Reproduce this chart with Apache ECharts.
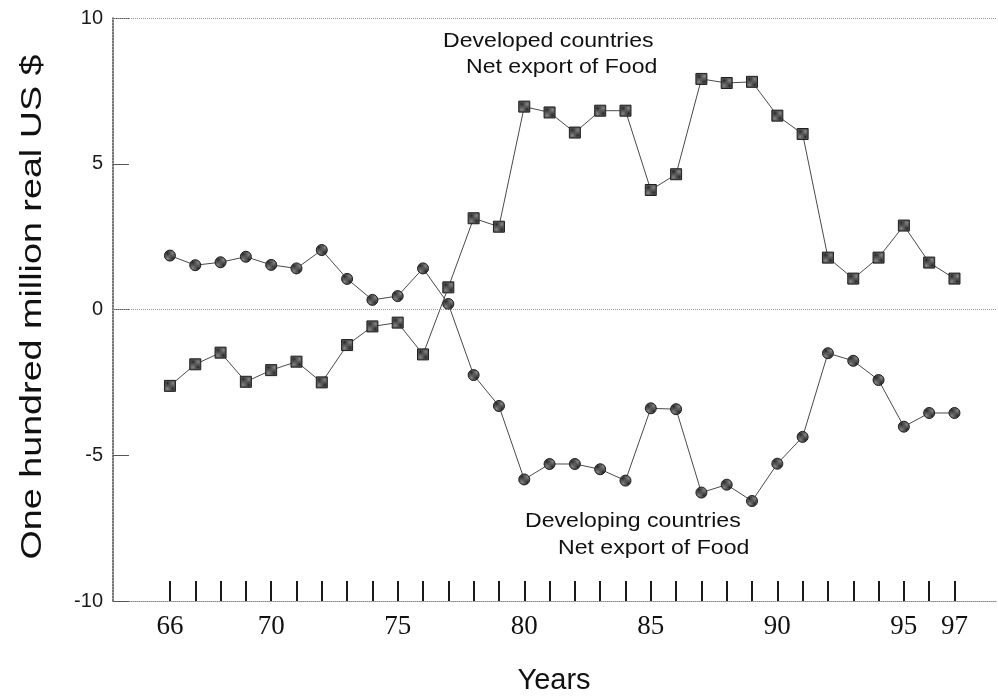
<!DOCTYPE html>
<html>
<head>
<meta charset="utf-8">
<script src="https://cdn.jsdelivr.net/npm/echarts@6/dist/echarts.min.js"></script>
<style>
  html, body { margin: 0; padding: 0; background: #fff; }
  #chart { width: 998px; height: 698px; }
</style>
</head>
<body>
<div id="chart"></div>
<script>
// Years 1966-1997 (two-digit labels on the axis)
const years = [66, 67, 68, 69, 70, 71, 72, 73, 74, 75, 76, 77, 78, 79, 80, 81,
               82, 83, 84, 85, 86, 87, 88, 89, 90, 91, 92, 93, 94, 95, 96, 97];
const yearLabels = [66, 70, 75, 80, 85, 90, 95, 97];

// Net export of food, one hundred million real US $
const developed = [-2.62, -1.88, -1.48, -2.48, -2.08, -1.79, -2.50, -1.22, -0.58, -0.45, -1.54, 0.76,
                   3.13, 2.84, 6.96, 6.76, 6.07, 6.82, 6.82, 4.10, 4.64, 7.91, 7.77, 7.81,
                   6.65, 6.02, 1.78, 1.06, 1.78, 2.88, 1.61, 1.06];
const developing = [1.85, 1.52, 1.62, 1.81, 1.53, 1.41, 2.04, 1.05, 0.33, 0.46, 1.41, 0.19,
                    -2.25, -3.31, -5.83, -5.30, -5.30, -5.48, -5.87, -3.39, -3.42, -6.28, -6.01, -6.57,
                    -5.29, -4.37, -1.50, -1.76, -2.42, -4.02, -3.55, -3.55];

// small checkered fill for the markers
function hatch() {
  const c = document.createElement('canvas');
  c.width = 2; c.height = 2;
  const g = c.getContext('2d');
  g.fillStyle = '#8a8a8a'; g.fillRect(0, 0, 2, 2);
  g.fillStyle = '#262626'; g.fillRect(0, 0, 1, 1); g.fillRect(1, 1, 1, 1);
  return { image: c, repeat: 'repeat' };
}

const chart = echarts.init(document.getElementById('chart'), null, { renderer: 'canvas' });

const sans = '"Liberation Sans", Arial, sans-serif';
const serif = '"Liberation Serif", "Times New Roman", serif';

chart.setOption({
  animation: false,
  backgroundColor: '#ffffff',
  grid: { left: 113, right: 1, top: 18, bottom: 97, containLabel: false },
  xAxis: {
    type: 'value',
    min: 63.75,
    max: 98.68,
    axisLine: { show: true, onZero: false, lineStyle: { color: '#888', width: 1, type: 'dotted' } },
    axisTick: {
      show: true, inside: true, length: 20, customValues: years,
      lineStyle: { color: '#1a1a1a', width: 2 }
    },
    axisLabel: {
      show: true, customValues: yearLabels, margin: 12,
      fontFamily: serif, fontSize: 27, color: '#111'
    },
    splitLine: { show: false }
  },
  yAxis: {
    type: 'value',
    min: -10, max: 10, interval: 5,
    axisLine: { show: true, lineStyle: { color: '#444', width: 1.5, type: 'dotted' } },
    axisTick: { show: true, inside: true, length: 16, lineStyle: { color: '#555', width: 1 } },
    axisLabel: { margin: 10, fontFamily: sans, fontSize: 20, color: '#1a1a1a' },
    splitLine: { show: false }
  },
  series: [
    {
      name: 'Developed countries',
      type: 'line',
      data: years.map((y, i) => [y, developed[i]]),
      symbol: 'rect',
      symbolSize: 11,
      lineStyle: { color: '#4a4a4a', width: 1 },
      itemStyle: { color: hatch(), borderColor: '#1e1e1e', borderWidth: 1 },
      z: 3,
      markLine: {
        silent: true, symbol: 'none', label: { show: false },
        lineStyle: { color: '#999', width: 1, type: 'dotted' },
        data: [{ yAxis: 10 }, { yAxis: 0 }]
      }
    },
    {
      name: 'Developing countries',
      type: 'line',
      data: years.map((y, i) => [y, developing[i]]),
      symbol: 'circle',
      symbolSize: 11,
      lineStyle: { color: '#4a4a4a', width: 1 },
      itemStyle: { color: hatch(), borderColor: '#1e1e1e', borderWidth: 1 },
      z: 3
    }
  ],
  graphic: [
    {
      type: 'text', x: 443, y: 41, scaleX: 1.1,
      style: { text: 'Developed countries', fontFamily: sans, fontSize: 21, fill: '#111', verticalAlign: 'middle' }
    },
    {
      type: 'text', x: 466, y: 67, scaleX: 1.1,
      style: { text: 'Net export of Food', fontFamily: sans, fontSize: 21, fill: '#111', verticalAlign: 'middle' }
    },
    {
      type: 'text', x: 525, y: 521, scaleX: 1.1,
      style: { text: 'Developing countries', fontFamily: sans, fontSize: 21, fill: '#111', verticalAlign: 'middle' }
    },
    {
      type: 'text', x: 558, y: 548, scaleX: 1.1,
      style: { text: 'Net export of Food', fontFamily: sans, fontSize: 21, fill: '#111', verticalAlign: 'middle' }
    },
    {
      type: 'text', x: 554, y: 681,
      style: { text: 'Years', fontFamily: sans, fontSize: 29, fill: '#111', align: 'center', verticalAlign: 'middle' }
    },
    {
      type: 'text', x: 33, y: 307, rotation: Math.PI / 2, scaleX: 1.3,
      style: { text: 'One hundred million real US $', fontFamily: sans, fontSize: 29, fill: '#111', align: 'center', verticalAlign: 'middle' }
    }
  ]
});
</script>
</body>
</html>
